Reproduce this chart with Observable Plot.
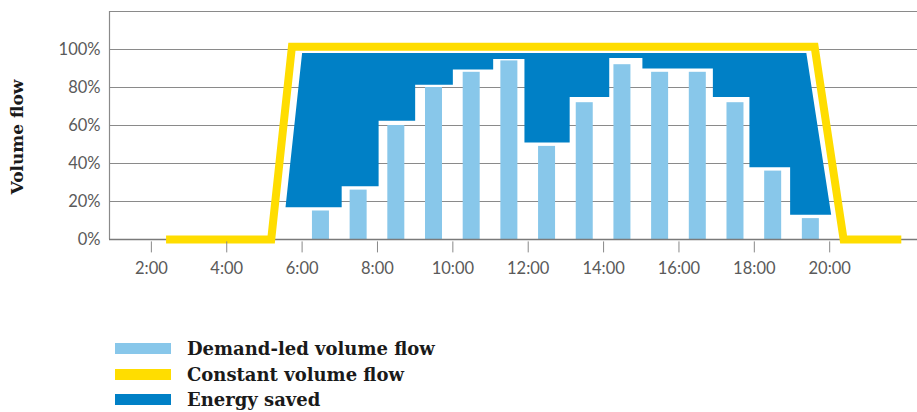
<!DOCTYPE html>
<html>
<head>
<meta charset="utf-8">
<script src="https://cdn.jsdelivr.net/npm/d3@7"></script>
<script src="https://cdn.jsdelivr.net/npm/@observablehq/plot@0.6"></script>
<style>
  html, body { margin: 0; padding: 0; background: #fff; }
  #wrap { position: relative; width: 917px; height: 412px; overflow: hidden; }
  #chart svg { display: block; }
  #ylabel {
    position: absolute; left: 17px; top: 137px;
    transform: translate(-50%, -50%) rotate(-90deg);
    font-family: "DejaVu Serif", serif; font-weight: bold; font-size: 17px;
    color: #1a1a1a; white-space: nowrap;
  }
  .legend { position: absolute; left: 115px; top: 0; font-family: "DejaVu Serif", serif; font-weight: bold; font-size: 18px; color: #1a1a1a; }
  .row { position: absolute; left: 0; height: 20px; display: flex; align-items: center; white-space: nowrap; }
  .sw { width: 56px; height: 11px; margin-right: 16px; }
</style>
</head>
<body>
<div id="wrap">
  <div id="chart"></div>
  <div id="ylabel">Volume flow</div>
  <div class="legend" id="legend"></div>
</div>
<script>
// ---- data ----
const hours = [6.5, 7.5, 8.5, 9.5, 10.5, 11.5, 12.5, 13.5, 14.5, 15.5, 16.5, 17.5, 18.5, 19.5];
const demand = [15, 26, 60, 80, 88, 94, 49, 72, 92, 88, 88, 72, 36, 11];

const constantHours = [2.39, 5.18, 5.73, 19.60, 20.37, 21.9];
const constantFlow = [0, 0, 101.5, 101.5, 0, 0];

const savedEdges = [5.56, 7.05, 8.03, 9.0, 10.0, 11.07, 11.9, 13.1, 14.15, 15.03, 16.9, 17.87, 18.95, 20.04];
const savedFloor = [17, 28, 62.5, 81.5, 89.5, 95, 51, 75, 95.5, 90, 75, 38, 13];
const savedTopHours = [6.0, 19.38];
const savedTop = 98.2;

const xTicks = [2, 4, 6, 8, 10, 12, 14, 16, 18, 20];
const yTicks = [0, 20, 40, 60, 80, 100];
const gridLevels = [20, 40, 60, 80, 100, 120];

const legendLabels = ["Demand-led volume flow", "Constant volume flow", "Energy saved"];
const colors = { demand: "#88c7ea", constant: "#ffdd00", saved: "#0080c6" };

// ---- derived tables ----
const bars = hours.map((h, i) => ({ h, v: demand[i] }));
const constant = constantHours.map((h, i) => ({ h, v: constantFlow[i] }));
const n = savedEdges.length;
const saved = [
  { h: savedEdges[0], v: savedFloor[0] },
  { h: savedTopHours[0], v: savedTop },
  { h: savedTopHours[1], v: savedTop },
  { h: savedEdges[n - 1], v: savedFloor[n - 2] }
];
for (let i = n - 2; i >= 1; i--) {
  saved.push({ h: savedEdges[i], v: savedFloor[i] });
  saved.push({ h: savedEdges[i], v: savedFloor[i - 1] });
}

const halfBar = 0.2256;
const xMin = 0.889, xMax = 22.33;

const chart = Plot.plot({
  width: 917,
  height: 330,
  marginLeft: 109,
  marginRight: 0,
  marginTop: 11,
  marginBottom: 91,
  style: { fontFamily: "Lato, sans-serif", fontSize: "16px", color: "#555", background: "#fff" },
  x: { domain: [xMin, xMax], axis: null, label: null },
  y: { domain: [0, 120], axis: null, label: null },
  marks: [
    Plot.ruleY(gridLevels, { stroke: "#8a8a8a", strokeWidth: 1.2 }),
    Plot.ruleX([xMin], { y1: 0, y2: 120, stroke: "#8a8a8a", strokeWidth: 1.2 }),
    Plot.line(saved, { x: "h", y: "v", fill: colors.saved, stroke: "none", curve: "linear" }),
    Plot.rectY(bars, { x1: d => d.h - halfBar, x2: d => d.h + halfBar, y: "v", fill: colors.demand }),
    Plot.ruleY([0], { stroke: "#7a7a7a", strokeWidth: 1.3 }),
    Plot.line(constant, { x: "h", y: "v", stroke: colors.constant, strokeWidth: 8, strokeLinejoin: "miter", strokeLinecap: "butt", strokeMiterlimit: 10 }),
    Plot.axisX({ ticks: xTicks, tickFormat: d => `${d}:00`, tickSize: 11, tickPadding: 9, dy: 2.4, stroke: "#888", fill: "#5a5a5a", fontSize: 16.5, label: null }),
    Plot.axisY({ ticks: yTicks, tickFormat: d => `${d}%`, tickSize: 0, tickPadding: 9, fill: "#5a5a5a", fontSize: 16.5, label: null })
  ]
});
document.getElementById("chart").appendChild(chart);

// ---- legend ----
const legend = document.getElementById("legend");
const swatchColors = [colors.demand, colors.constant, colors.saved];
const rowCenters = [348.3, 374, 399.5];
legendLabels.forEach((label, i) => {
  const row = document.createElement("div");
  row.className = "row";
  row.style.top = (rowCenters[i] - 10) + "px";
  const sw = document.createElement("div");
  sw.className = "sw";
  sw.style.background = swatchColors[i];
  const t = document.createElement("span");
  t.textContent = label;
  row.appendChild(sw);
  row.appendChild(t);
  legend.appendChild(row);
});
</script>
</body>
</html>
